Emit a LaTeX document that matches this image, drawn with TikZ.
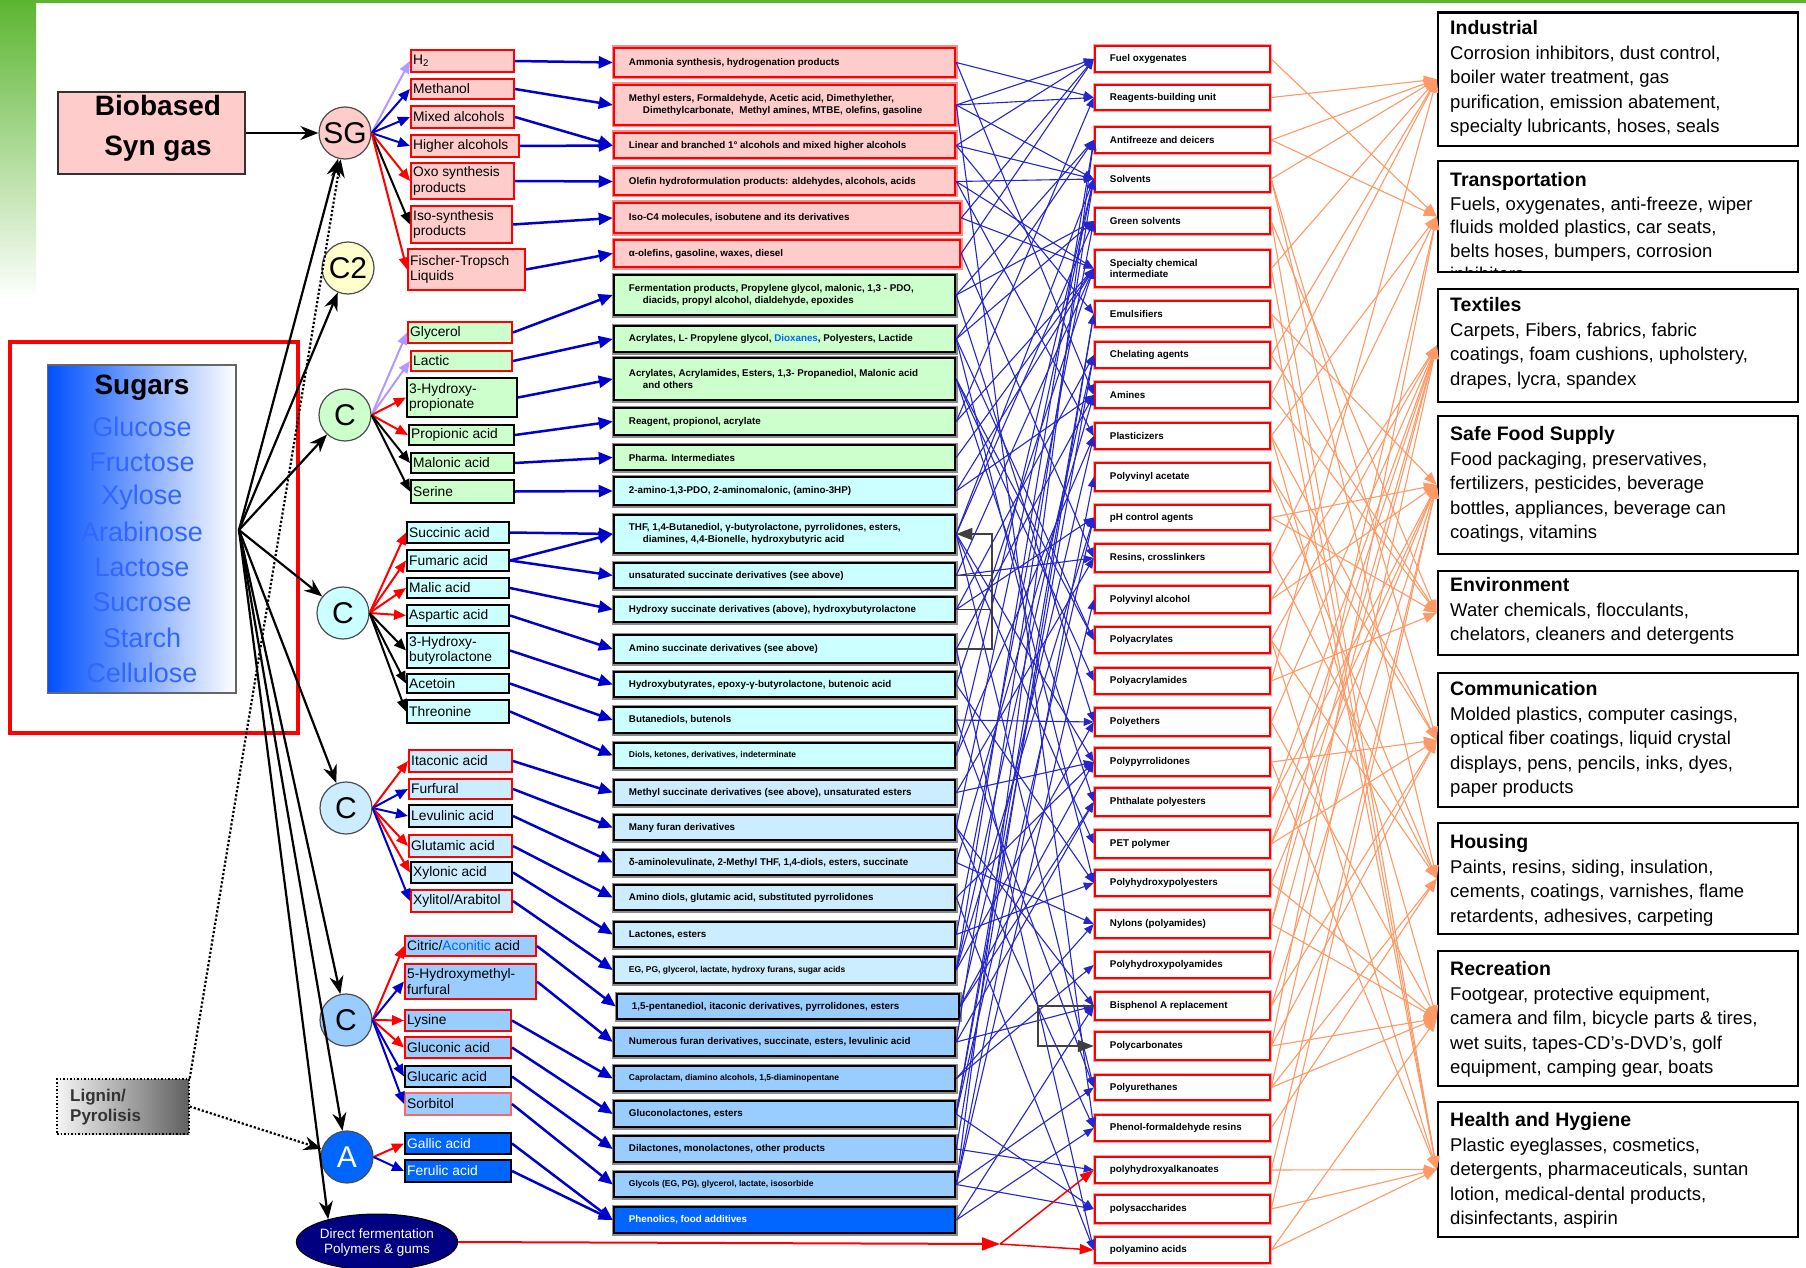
\documentclass[tikz,border=0pt]{standalone}
\usepackage{fontspec}
\setmainfont{Liberation Sans}
\usetikzlibrary{arrows.meta,shapes.geometric,fit,calc}
\definecolor{pk}{HTML}{FFCCCC}
\definecolor{gr}{HTML}{CCFFCC}
\definecolor{cy}{HTML}{CCFFFF}
\definecolor{lb}{HTML}{CCECFF}
\definecolor{mb}{HTML}{99CCFF}
\definecolor{bl}{HTML}{0066FF}
\definecolor{yl}{HTML}{FFFFCC}
\definecolor{lav}{HTML}{B399FF}
\definecolor{dbl}{HTML}{0000CC}
\definecolor{thinbl}{HTML}{2626CC}
\definecolor{orng}{HTML}{FF9966}
\definecolor{navy}{HTML}{000080}
\definecolor{sugblue}{HTML}{0050FF}
\definecolor{sugtxt}{HTML}{3366FF}
\definecolor{leaf}{HTML}{5CB531}
\definecolor{rd}{HTML}{FF0000}
\definecolor{rdl}{HTML}{FF6666}
\newcommand\BB[8]{%
  \node[fit={(#2,#3)(#4,#5)},inner sep=0pt,draw=#7,fill=#6,line width=2pt] (#1) {};
  \node[bbtext,anchor=west] at ([xshift=3pt]#1.west) {#8};}
\newcommand\DV[8]{%
  \node[fit={(#2,#3)(#4,#5)},inner sep=0pt,draw=#7,fill=#6,line width=2.5pt,preaction={draw=#7!45,line width=5pt}] (#1) {};
  \node[dvtext,anchor=west] at ([xshift=16pt]#1.west) {#8};}
\newcommand\PR[4]{%
  \node[fit={(1095,#2)(1270,#3)},inner sep=0pt,draw=rd,fill=white,line width=2.5pt,preaction={draw=rd!35,line width=4.5pt}] (#1) {};
  \node[prtext,anchor=west] at ([xshift=16pt]#1.west) {#4};}
\newcommand\SE[5]{%
  \node[fit={(1438,#2)(1798,#3)},inner sep=0pt,draw=black,line width=2.5pt,fill=white] (#1) {};
  \node[sectext,anchor=north west] at (1450,#4) {#5};}
\newcommand\hd[1]{{\fontsize{19.5}{24.5}\selectfont\bfseries #1}}
\begin{document}
\begin{tikzpicture}[x=1pt,y=-1pt,
  bbtext/.style={inner sep=0pt,align=left,font=\fontsize{13.8}{15.5}\selectfont},
  dvtext/.style={inner sep=0pt,align=left,font=\fontsize{9.8}{11.5}\selectfont\bfseries},
  prtext/.style={inner sep=0pt,align=left,font=\fontsize{9.8}{11}\selectfont\bfseries},
  sectext/.style={inner sep=0pt,align=left,font=\fontsize{18.5}{24.5}\selectfont},
  circ/.style={circle,draw=black!70,line width=1.2pt,minimum size=52pt,inner sep=0pt,font=\fontsize{30}{30}\selectfont},
  fanarrow/.style={line width=2.2pt,-{Stealth[length=18pt,width=14pt]}},
  cb/.style={line width=2pt,-{Triangle[length=12pt,width=10pt]}},
  bthick/.style={draw=dbl,line width=2.5pt,-{Triangle[length=14pt,width=12pt]}},
  bthin/.style={draw=thinbl,line width=1.1pt,-{Triangle[length=10pt,width=8pt]}},
  orl/.style={draw=orng,line width=1.1pt,-{Triangle[length=13pt,width=10pt]}},
  brk/.style={draw=black!75,line width=1.5pt}]
\useasboundingbox (0,0) rectangle (1806,1268);
\fill[white] (0,0) rectangle (1806,1268);
% background leaf strip
\shade[top color=leaf,bottom color=white] (0,0) rectangle (36,300);
\fill[leaf] (0,0) rectangle (1806,3);

% ---------- feedstocks ----------
\node[fit={(58,92)(245,174)},inner sep=0pt,draw=black!80,fill=pk,line width=1.5pt] (bio) {};
\node[inner sep=0pt,align=center,font=\fontsize{28}{40}\selectfont\bfseries] at (158,128) {Biobased\\Syn gas};

\node[fit={(10,342)(298,733)},inner sep=0pt,draw=rd,fill=white,line width=4pt] (sugframe) {};
\node[fit={(47.5,365)(236,693)},inner sep=0pt,draw=black!60,line width=1.2pt,left color=sugblue,middle color=sugblue!12!white,right color=white] (sug) {};
\node[inner sep=0pt,font=\fontsize{28}{30}\selectfont\bfseries] at (142,388) {Sugars};
\foreach \t [count=\i] in {Glucose,Fructose,Xylose,Arabinose,Lactose,Sucrose,Starch,Cellulose}
  \node[inner sep=0pt,text=sugtxt,font=\fontsize{27}{30}\selectfont] at (142,{427+35.1*(\i-1)}) {\t};

\node[fit={(57,1079)(189,1134)},inner sep=0pt,draw=black,dotted,line width=1.5pt,left color=gray!8,right color=gray!75!black] (lig) {};
\node[inner sep=0pt,anchor=west,align=left,text=black!80,font=\fontsize{17}{20}\selectfont\bfseries] at (70,1107) {Lignin/\\Pyrolisis};

\node[ellipse,fill=navy,draw=black,line width=1pt,minimum width=144pt,minimum height=56pt,inner sep=0pt,text=white,align=center,font=\fontsize{13.5}{15}\selectfont] (DF) at (377,1242) {Direct fermentation\\Polymers \& gums};

% ---------- platform circles ----------
\node[circ,fill=pk] (SG) at (345,133) {SG};
\node[circ,fill=yl] (C2) at (348,268) {C2};
\node[circ,fill=gr] (Cg) at (345,415) {C};
\node[circ,fill=cy] (Cc) at (343,613) {C};
\node[circ,fill=lb] (Cl) at (346,808) {C};
\node[circ,fill=mb] (Cm) at (346,1020) {C};
\node[circ,fill=bl,text=white] (A) at (347,1157) {A};

% ---------- building blocks ----------
\BB{b1}{411}{50}{514}{72}{pk}{rd}{H\textsubscript{2}}
\BB{b2}{411}{79}{514}{99}{pk}{rd}{Methanol}
\BB{b3}{411}{106}{514}{128}{pk}{rd}{Mixed alcohols}
\BB{b4}{411}{135}{519}{157}{pk}{rd}{Higher alcohols}
\BB{b5}{411}{163}{514}{199}{pk}{rd}{Oxo synthesis\\products}
\BB{b6}{411}{206}{512}{243}{pk}{rd}{Iso-synthesis\\products}
\BB{b7}{408}{249}{525}{290}{pk}{rd}{Fischer-Tropsch\\Liquids}
\BB{b8}{408}{322}{512}{343}{gr}{rd}{Glycerol}
\BB{b9}{411}{351}{512}{371}{gr}{rd}{Lactic}
\BB{b10}{407}{378}{517}{417}{gr}{black}{3-Hydroxy-\\propionate}
\BB{b11}{409}{425}{514}{445}{gr}{black}{Propionic acid}
\BB{b12}{411}{453}{514}{473}{gr}{black}{Malonic acid}
\BB{b13}{411}{480}{514}{503}{gr}{black}{Serine}
\BB{b14}{407}{522}{509}{543}{cy}{black}{Succinic acid}
\BB{b15}{407}{550}{509}{571}{cy}{black}{Fumaric acid}
\BB{b16}{407}{578}{509}{598}{cy}{black}{Malic acid}
\BB{b17}{407}{605}{509}{626}{cy}{black}{Aspartic acid}
\BB{b18}{407}{633}{509}{668}{cy}{black}{3-Hydroxy-\\butyrolactone}
\BB{b19}{407}{674}{509}{693}{cy}{black}{Acetoin}
\BB{b20}{407}{700}{509}{723}{cy}{black}{Threonine}
\BB{b21}{409}{750}{512}{772}{lb}{rd}{Itaconic acid}
\BB{b22}{409}{779}{512}{799}{lb}{rd}{Furfural}
\BB{b23}{409}{805}{512}{827}{lb}{black}{Levulinic acid}
\BB{b24}{409}{835}{512}{857}{lb}{rd}{Glutamic acid}
\BB{b25}{411}{862}{512}{883}{lb}{black}{Xylonic acid}
\BB{b26}{411}{890}{512}{912}{lb}{rd}{Xylitol/Arabitol}
\BB{b27}{405}{936}{536}{956}{mb}{rd}{Citric/\textcolor{bl}{Aconitic} acid}
\BB{b28}{405}{964}{536}{999}{mb}{rd}{5-Hydroxymethyl-\\furfural}
\BB{b29}{405}{1010}{511}{1031}{mb}{rd}{Lysine}
\BB{b30}{405}{1037}{511}{1058}{mb}{rd}{Gluconic acid}
\BB{b31}{405}{1066}{511}{1087}{mb}{black}{Glucaric acid}
\BB{b32}{405}{1093}{511}{1115}{mb}{rdl}{Sorbitol}
\BB{b33}{405}{1133}{511}{1154}{bl}{black}{\color{white}Gallic acid}
\BB{b34}{405}{1160}{511}{1182}{bl}{black}{\color{white}Ferulic acid}

% ---------- derivatives ----------
\DV{d1}{614}{48}{955}{77}{pk}{rd}{Ammonia synthesis, hydrogenation products}
\DV{d2}{614}{85}{955}{125}{pk}{rd}{Methyl esters, Formaldehyde, Acetic acid, Dimethylether,\\\hspace*{14pt}Dimethylcarbonate,\ \ Methyl amines, MTBE, olefins, gasoline}
\DV{d3}{614}{133}{955}{158}{pk}{rd}{Linear and branched 1° alcohols and mixed higher alcohols}
\DV{d4}{614}{168}{955}{195}{pk}{rd}{Olefin hydroformulation products: aldehydes, alcohols, acids}
\DV{d5}{614}{203}{960}{233}{pk}{rd}{Iso-C4 molecules, isobutene and its derivatives}
\DV{d6}{614}{240}{960}{267}{pk}{rd}{α-olefins, gasoline, waxes, diesel}
\DV{d7}{614}{275}{955}{315}{gr}{black}{Fermentation products, Propylene glycol, malonic, 1,3 - PDO,\\\hspace*{14pt}diacids, propyl alcohol, dialdehyde, epoxides}
\DV{d8}{614}{326}{955}{352}{gr}{black}{Acrylates, L- Propylene glycol, \textcolor{bl}{Dioxanes}, Polyesters, Lactide}
\DV{d9}{614}{358}{955}{400}{gr}{black}{Acrylates, Acrylamides, Esters, 1,3- Propanediol, Malonic acid\\\hspace*{14pt}and others}
\DV{d10}{614}{408}{955}{435}{gr}{black}{Reagent, propionol, acrylate}
\DV{d11}{614}{445}{955}{470}{gr}{black}{Pharma. Intermediates}
\DV{d12}{614}{477}{955}{505}{cy}{black}{2-amino-1,3-PDO, 2-aminomalonic, (amino-3HP)}
\DV{d13}{614}{515}{955}{553}{cy}{black}{THF, 1,4-Butanediol, γ-butyrolactone, pyrrolidones, esters,\\\hspace*{14pt}diamines, 4,4-Bionelle, hydroxybutyric acid}
\DV{d14}{614}{563}{955}{588}{cy}{black}{unsaturated succinate derivatives (see above)}
\DV{d15}{614}{597}{955}{622}{cy}{black}{Hydroxy succinate derivatives (above), hydroxybutyrolactone}
\DV{d16}{614}{635}{955}{663}{cy}{black}{Amino succinate derivatives (see above)}
\DV{d17}{614}{672}{955}{697}{cy}{black}{Hydroxybutyrates, epoxy-γ-butyrolactone, butenoic acid}
\DV{d18}{614}{707}{955}{733}{cy}{black}{Butanediols, butenols}
\DV{d19}{614}{743}{955}{768}{cy}{black}{\fontsize{8.5}{10}\selectfont Diols, ketones, derivatives, indeterminate}
\DV{d20}{614}{780}{955}{805}{lb}{black}{Methyl succinate derivatives (see above), unsaturated esters}
\DV{d21}{614}{815}{955}{840}{lb}{black}{Many furan derivatives}
\DV{d22}{614}{850}{955}{875}{lb}{black}{δ-aminolevulinate, 2-Methyl THF, 1,4-diols, esters, succinate}
\DV{d23}{614}{885}{955}{910}{lb}{black}{Amino diols, glutamic acid, substituted pyrrolidones}
\DV{d24}{614}{922}{955}{947}{lb}{black}{Lactones, esters}
\DV{d25}{614}{957}{955}{983}{lb}{black}{\fontsize{8.5}{10}\selectfont EG, PG, glycerol, lactate, hydroxy furans, sugar acids}
\DV{d26}{617}{994}{959}{1019}{mb}{black}{1,5-pentanediol, itaconic derivatives, pyrrolidones, esters}
\DV{d27}{614}{1028}{955}{1056}{mb}{black}{Numerous furan derivatives, succinate, esters, levulinic acid}
\DV{d28}{614}{1066}{955}{1091}{mb}{black}{\fontsize{8.5}{10}\selectfont Caprolactam, diamino alcohols, 1,5-diaminopentane}
\DV{d29}{614}{1101}{955}{1127}{mb}{black}{Gluconolactones, esters}
\DV{d30}{614}{1136}{955}{1162}{mb}{black}{Dilactones, monolactones, other products}
\DV{d31}{614}{1172}{955}{1197}{mb}{black}{\fontsize{8.5}{10}\selectfont Glycols (EG, PG), glycerol, lactate, isosorbide}
\DV{d32}{614}{1207}{955}{1233}{bl}{black}{\color{white}Phenolics, food additives}

% ---------- products ----------
\PR{p1}{46}{72}{Fuel oxygenates}
\PR{p2}{85}{110}{Reagents-building unit}
\PR{p3}{127}{153}{Antifreeze and deicers}
\PR{p4}{166}{192}{Solvents}
\PR{p5}{208}{234}{Green solvents}
\PR{p6}{250}{287}{Specialty chemical\\intermediate}
\PR{p7}{301}{327}{Emulsifiers}
\PR{p8}{342}{368}{Chelating agents}
\PR{p9}{382}{408}{Amines}
\PR{p10}{423}{449}{Plasticizers}
\PR{p11}{463}{491}{Polyvinyl acetate}
\PR{p12}{505}{530}{pH control agents}
\PR{p13}{544}{572}{Resins, crosslinkers}
\PR{p14}{586}{613}{Polyvinyl alcohol}
\PR{p15}{627}{653}{Polyacrylates}
\PR{p16}{668}{694}{Polyacrylamides}
\PR{p17}{708}{736}{Polyethers}
\PR{p18}{748}{776}{Polypyrrolidones}
\PR{p19}{788}{816}{Phthalate polyesters}
\PR{p20}{830}{858}{PET polymer}
\PR{p21}{870}{896}{Polyhydroxypolyesters}
\PR{p22}{910}{938}{Nylons (polyamides)}
\PR{p23}{952}{978}{Polyhydroxypolyamides}
\PR{p24}{992}{1020}{Bisphenol A replacement}
\PR{p25}{1032}{1060}{Polycarbonates}
\PR{p26}{1075}{1100}{Polyurethanes}
\PR{p27}{1115}{1141}{Phenol-formaldehyde resins}
\PR{p28}{1157}{1183}{polyhydroxyalkanoates}
\PR{p29}{1195}{1223}{polysaccharides}
\PR{p30}{1237}{1263}{polyamino acids}

% ---------- sectors ----------
\SE{S1}{12.5}{146}{20.5}{\hd{Industrial}\\Corrosion inhibitors, dust control,\\boiler water treatment, gas\\purification, emission abatement,\\specialty lubricants, hoses, seals}
\SE{S2}{161}{272}{172.5}{}
\begin{scope}
\clip (1440,163) rectangle (1796,270.5);
\node[sectext,anchor=north west] at (1450,172.5) {\hd{Transportation}\\[-1pt]Fuels, oxygenates, anti-freeze, wiper\\[-1pt]fluids molded plastics, car seats,\\[-1pt]belts hoses, bumpers, corrosion\\[-1.5pt]inhibitors};
\end{scope}
\SE{S3}{289}{402}{297.5}{\hd{Textiles}\\Carpets, Fibers, fabrics, fabric\\coatings, foam cushions, upholstery,\\drapes, lycra, spandex}
\SE{S4}{416}{554}{426.5}{\hd{Safe Food Supply}\\Food packaging, preservatives,\\fertilizers, pesticides, beverage\\bottles, appliances, beverage can\\coatings, vitamins}
\SE{S5}{571}{655}{577.5}{\hd{Environment}\\Water chemicals, flocculants,\\chelators, cleaners and detergents}
\SE{S6}{673}{807}{681.5}{\hd{Communication}\\Molded plastics, computer casings,\\optical fiber coatings, liquid crystal\\displays, pens, pencils, inks, dyes,\\paper products}
\SE{S7}{823}{934}{834.5}{\hd{Housing}\\Paints, resins, siding, insulation,\\cements, coatings, varnishes, flame\\retardents, adhesives, carpeting}
\SE{S8}{951}{1086}{961.5}{\hd{Recreation}\\Footgear, protective equipment,\\camera and film, bicycle parts \& tires,\\wet suits, tapes-CD's-DVD's, golf\\equipment, camping gear, boats}
\SE{S9}{1102}{1237}{1112.5}{\hd{Health and Hygiene}\\Plastic eyeglasses, cosmetics,\\detergents, pharmaceuticals, suntan\\lotion, medical-dental products,\\disinfectants, aspirin}

% ---------- connectors: feedstocks to platforms ----------
\draw[fanarrow] (bio.east) -- (SG.west);
\coordinate (fan) at (239,530);
\foreach \t in {SG,C2,Cg,Cc,Cl,Cm,A} \draw[fanarrow] (fan) -- (\t);
\draw[fanarrow] (fan) -- (DF.155);
\draw[line width=2.2pt,dotted,-{Stealth[length=18pt,width=14pt]}] (lig.north east) -- (SG);
\draw[line width=2.2pt,dotted,-{Stealth[length=18pt,width=14pt]}] (lig.east) -- (A);

% ---------- platforms to building blocks ----------
\foreach \c/\b/\col in {SG/1/lav,SG/2/dbl,SG/3/dbl,SG/4/dbl,SG/5/rd,SG/6/black,SG/7/rd,
  Cg/8/lav,Cg/9/lav,Cg/10/rd,Cg/11/rd,Cg/12/black,Cg/13/black,
  Cc/14/rd,Cc/15/rd,Cc/16/rd,Cc/17/rd,Cc/18/black,Cc/19/black,Cc/20/black,
  Cl/21/rd,Cl/22/dbl,Cl/23/dbl,Cl/24/rd,Cl/25/rd,Cl/26/dbl,
  Cm/27/rd,Cm/28/dbl,Cm/29/rd,Cm/30/rd,Cm/31/dbl,Cm/32/dbl,
  A/33/rd,A/34/dbl}
  \draw[cb,draw=\col] (\c.east) -- (b\b.west);

% ---------- building blocks to derivatives ----------
\foreach \a/\b in {1/1,2/2,3/3,4/3,5/4,6/5,7/6,8/7,9/8,10/9,11/10,12/11,13/12,14/13,15/13,15/14,16/15,17/16,18/17,19/18,20/19,21/20,22/21,23/22,24/23,25/24,26/25,27/26,28/27,29/28,30/29,31/30,32/31,33/32,34/32}
  \draw[bthick] (b\a.east) -- (d\b.west);

% ---------- derivatives to products ----------
\foreach \a/\b in {1/2,1/9,2/1,2/2,2/4,2/27,3/1,3/4,3/7,4/4,4/6,4/10,5/1,5/6,6/1,6/13,7/3,7/5,7/17,8/3,8/5,8/15,8/21,9/15,9/16,9/19,10/2,10/6,11/6,12/9,12/6,13/4,13/5,13/18,13/20,13/26,14/6,14/13,15/12,15/8,16/9,16/30,17/6,17/21,18/17,18/26,19/4,19/10,20/13,20/18,21/4,21/24,21/27,22/9,22/22,23/18,23/30,24/5,24/21,25/3,25/8,25/12,25/17,26/10,26/18,26/19,27/4,27/19,27/24,28/22,28/23,29/7,29/8,29/12,29/29,30/7,30/28,31/3,31/11,31/14,31/26,31/29,32/24,32/27}
  \draw[bthin] (d\a.east) -- (p\b.west);

% brackets
\coordinate (k1) at (992,534);
\draw[brk] (d14.east) -- (d14.east -| k1) (d15.east) -- (d15.east -| k1);
\draw[brk,-{Triangle[length=16pt,width=12pt]}] (d16.east) -| (k1) -- (d13.east);
\coordinate (k2) at (1038,1006);
\draw[brk,-{Triangle[length=16pt,width=12pt]}] (p24.west) -- (k2) |- (p25.west);

% direct fermentation
\coordinate (rj) at (1000,1244);
\draw[draw=rd,line width=2pt,-{Triangle[length=18pt,width=13pt]}] (DF.east) -- (rj);
\draw[draw=rd,line width=1.5pt,-{Triangle[length=14pt,width=10pt]}] (rj) -- (p28.west);
\draw[draw=rd,line width=1.5pt,-{Triangle[length=14pt,width=10pt]}] (rj) -- (p30.west);

% ---------- products to sectors ----------
\foreach \a/\b in {1/2,2/1,3/2,3/1,4/1,4/7,4/6,5/5,5/9,6/1,6/9,7/4,7/9,8/5,8/1,9/1,9/5,10/6,10/8,10/2,11/7,11/6,12/5,12/4,13/7,13/2,14/3,14/4,15/7,15/3,15/9,16/5,16/1,17/3,17/8,18/9,18/6,19/3,19/4,20/4,20/3,20/6,21/8,21/4,22/3,22/2,22/8,23/3,24/4,24/6,25/6,25/8,25/2,26/3,26/7,26/8,27/7,28/4,28/9,29/9,29/4,30/9,30/8}
  \draw[orl] (p\a.east) -- (S\b.west);
\end{tikzpicture}
\end{document}
